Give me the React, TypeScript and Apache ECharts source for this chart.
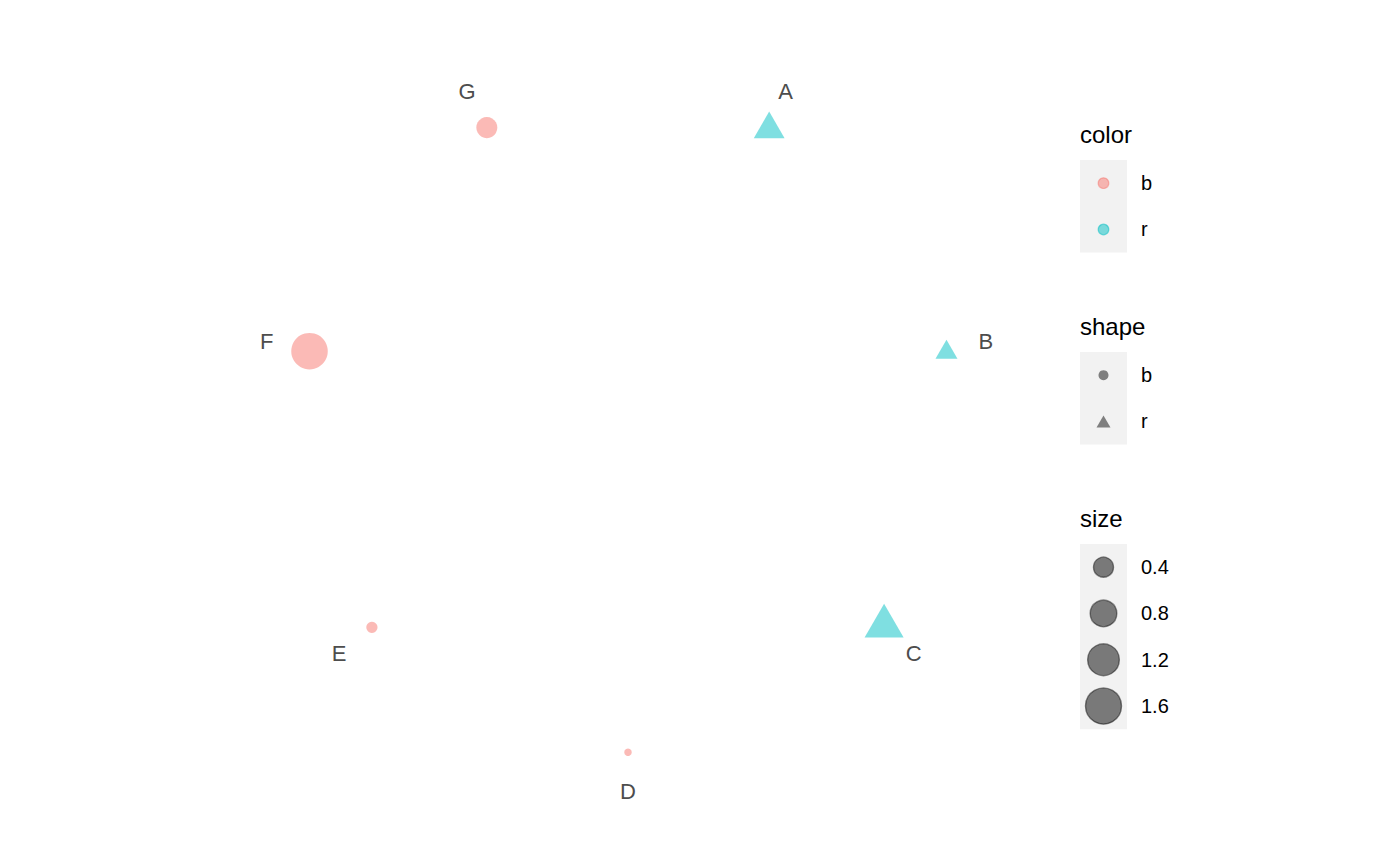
import { useEffect, useRef } from "react";
import * as echarts from "echarts";

// node layout (circle layout)
const nodes = ["A", "B", "C", "D", "E", "F", "G"];
const nodeX = [0.43, 0.97, 0.78, 0, -0.78, -0.97, -0.43];
const nodeY = [0.9, 0.22, -0.61, -1, -0.62, 0.22, 0.9];
const nodeGroup = ["r", "r", "r", "b", "b", "b", "b"];
const nodeSize = [0.5, 0.2, 0.9, 0.01, 0.06, 1.55, 0.4];

// label anchor positions, same units
const labelX = [0.48, 1.09, 0.87, 0, -0.88, -1.1, -0.49];
const labelY = [1.01, 0.25, -0.7, -1.12, -0.7, 0.25, 1.01];

const groupLevels = ["b", "r"];
const groupColors = ["#F8766D", "#00BFC4"];
const sizeBreaks = [0.4, 0.8, 1.2, 1.6];

const FONT = "Liberation Sans, Arial, sans-serif";

// ggplot-ish area scale: diameter in px
const diam = (v: number) => 5 + 25.3 * Math.sqrt(v);

const alpha = (hex: string, a: number) => {
  const n = parseInt(hex.slice(1), 16);
  return `rgba(${(n >> 16) & 255},${(n >> 8) & 255},${n & 255},${a})`;
};

const App = () => {
  const chartRef = useRef<HTMLDivElement>(null);

  useEffect(() => {
    document.body.style.margin = "0";
    if (!chartRef.current) return;
    const chart = echarts.init(chartRef.current, null, { renderer: "svg" });

    const points = nodes.map((n, i) => {
      const col = groupColors[groupLevels.indexOf(nodeGroup[i])];
      const d = diam(nodeSize[i]);
      const tri = nodeGroup[i] === "r";
      const w = d * 1.347;
      const h = w * 0.866;
      return {
        name: n,
        value: [nodeX[i], nodeY[i]],
        symbol: tri ? "triangle" : "circle",
        symbolSize: tri ? [w, h] : d,
        symbolOffset: tri ? [0, -h / 10] : [0, 0],
        itemStyle: { color: alpha(col, 0.5), opacity: 1 },
      };
    });

    const labels = nodes.map((n, i) => ({
      name: n,
      value: [labelX[i], labelY[i]],
    }));

    // legend drawn with graphic elements
    const lx = 1080;
    const kw = 47;
    const kh = 46.3;
    const kcx = lx + kw / 2;
    const tx = 1141;
    const legend: any[] = [];
    const title = (t: string, y: number) =>
      legend.push({
        type: "text",
        x: lx,
        y,
        style: { text: t, font: `24px ${FONT}`, fill: "#000", textVerticalAlign: "middle" },
      });
    const keyText = (t: string, y: number) =>
      legend.push({
        type: "text",
        x: tx,
        y,
        style: { text: t, font: `20px ${FONT}`, fill: "#000", textVerticalAlign: "middle" },
      });

    // color
    title("color", 134);
    legend.push({ type: "rect", shape: { x: lx, y: 160, width: kw, height: kh * 2 }, style: { fill: "#F2F2F2" } });
    groupLevels.forEach((g, i) => {
      const cy = 160 + kh * (i + 0.5);
      legend.push({
        type: "circle",
        shape: { cx: kcx, cy, r: 5.3 },
        style: { fill: alpha(groupColors[i], 0.5), stroke: alpha(groupColors[i], 0.5), lineWidth: 1.2 },
      });
      keyText(g, cy);
    });

    // shape
    title("shape", 326);
    legend.push({ type: "rect", shape: { x: lx, y: 352, width: kw, height: kh * 2 }, style: { fill: "#F2F2F2" } });
    groupLevels.forEach((g, i) => {
      const cy = 352 + kh * (i + 0.5);
      if (g === "r") {
        legend.push({
          type: "polygon",
          shape: { points: [[kcx, cy - 6], [kcx + 7, cy + 6], [kcx - 7, cy + 6]] },
          style: { fill: "#7F7F7F" },
        });
      } else {
        legend.push({ type: "circle", shape: { cx: kcx, cy, r: 5 }, style: { fill: "#7F7F7F" } });
      }
      keyText(g, cy);
    });

    // size
    title("size", 518);
    legend.push({ type: "rect", shape: { x: lx, y: 544, width: kw, height: kh * 4 }, style: { fill: "#F2F2F2" } });
    sizeBreaks.forEach((b, i) => {
      const cy = 544 + kh * (i + 0.5);
      legend.push({
        type: "circle",
        shape: { cx: kcx, cy, r: diam(b) / 2 - 0.5 },
        style: { fill: "rgba(0,0,0,0.5)", stroke: "rgba(0,0,0,0.45)", lineWidth: 1.4 },
      });
      keyText(b.toFixed(1), cy);
    });

    chart.setOption({
      animation: false,
      backgroundColor: "#FFFFFF",
      grid: { left: 234, top: 29, width: 788, height: 789 },
      xAxis: { type: "value", min: -1.2, max: 1.2, show: false },
      yAxis: { type: "value", min: -1.2, max: 1.2, show: false },
      series: [
        {
          type: "scatter",
          data: points,
          silent: true,
          z: 2,
        },
        {
          type: "scatter",
          data: labels,
          symbolSize: 0,
          silent: true,
          z: 3,
          itemStyle: { opacity: 1 },
          label: {
            show: true,
            position: "inside",
            formatter: "{b}",
            color: "#4D4D4D",
            fontFamily: FONT,
            fontSize: 22,
            textBorderWidth: 0,
          },
        },
      ],
      graphic: legend,
    });

    return () => {
      chart.dispose();
    };
  }, []);

  return <div ref={chartRef} style={{ width: "1400px", height: "866px" }}></div>;
};

export default App;
